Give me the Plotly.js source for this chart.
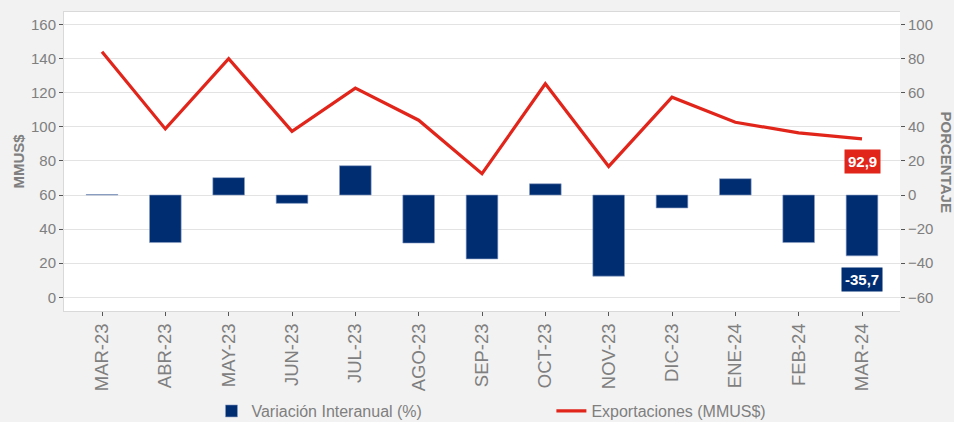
<!DOCTYPE html>
<html>
<head>
<meta charset="utf-8">
<script src="https://cdn.plot.ly/plotly-3.0.1.min.js"></script>
<style>html,body{margin:0;padding:0;background:#f2f2f2;}#chart{width:954px;height:422px;}</style>
</head>
<body>
<div id="chart"></div>
<script>
const categories = ["MAR-23","ABR-23","MAY-23","JUN-23","JUL-23","AGO-23","SEP-23","OCT-23","NOV-23","DIC-23","ENE-24","FEB-24","MAR-24"];
const exportaciones = [144.1, 98.8, 140.0, 97.4, 122.7, 103.9, 72.5, 125.3, 76.8, 117.4, 102.7, 96.5, 92.9];
const variacion = [0.3, -27.9, 10.2, -4.9, 17.2, -28.2, -37.5, 6.6, -47.6, -7.6, 9.6, -27.9, -35.7];
const leftTicks = [0, 20, 40, 60, 80, 100, 120, 140, 160];
const rightTicks = [-60, -40, -20, 0, 20, 40, 60, 80, 100];

const gray = "#7f7f7f";
const navy = "#002d72";
const red = "#e1251b";
const last = categories.length - 1;

const traces = [
  {
    type: "bar", x: categories, y: variacion, yaxis: "y2", name: "Variación Interanual (%)",
    marker: {color: navy, line: {color: "#8da0c4", width: 0.6}}, width: 0.5, legend: "legend"
  },
  {
    type: "scatter", mode: "lines", x: categories, y: exportaciones, yaxis: "y", name: "Exportaciones (MMUS$)",
    line: {color: red, width: 3.2}, legend: "legend2"
  }
];

const legFont = {family: "Liberation Sans Narrow, Arial Narrow, sans-serif", size: 16, color: gray};

const layout = {
  width: 954, height: 422,
  paper_bgcolor: "#f2f2f2", plot_bgcolor: "#ffffff",
  margin: {l: 64, r: 54, t: 12, b: 111},
  font: {family: "Liberation Sans, Arial, sans-serif", color: gray, size: 15},
  showlegend: true,
  xaxis: {
    type: "category", range: [-0.6, 12.6], tickangle: -90, automargin: false,
    ticks: "outside", ticklen: 4, tickcolor: "#555", tickfont: {size: 18.5, color: gray},
    showgrid: false, showline: true, linecolor: "#d9d9d9", mirror: true, zeroline: false
  },
  yaxis: {
    range: [-8.06, 167.4], tickvals: leftTicks, ticks: "outside", ticklen: 4, tickcolor: "#555",
    tickfont: {size: 15, color: gray}, gridcolor: "#e3e3e3", zeroline: false, automargin: false,
    showline: true, linecolor: "#d9d9d9"
  },
  yaxis2: {
    overlaying: "y", side: "right", range: [-68.06, 107.4], tickvals: rightTicks, automargin: false,
    ticks: "outside", ticklen: 4, tickcolor: "#555", tickfont: {size: 15, color: gray},
    showgrid: false, zeroline: false
  },
  legend: {orientation: "h", x: 0.1764, xanchor: "left", yref: "container", y: 0.026, yanchor: "middle",
    font: legFont, bgcolor: "rgba(0,0,0,0)"},
  legend2: {orientation: "h", x: 0.583, xanchor: "left", yref: "container", y: 0.026, yanchor: "middle",
    font: legFont, bgcolor: "rgba(0,0,0,0)"},
  annotations: [
    {x: categories[last], y: exportaciones[last], xref: "x", yref: "y", yshift: -23, showarrow: false,
      text: "<b>" + String(exportaciones[last]).replace(".", ",") + "</b>",
      font: {color: "#ffffff", size: 15}, bgcolor: red, borderpad: 3},
    {x: categories[last], y: variacion[last], xref: "x", yref: "y2", yshift: -24, showarrow: false,
      text: "<b>" + String(variacion[last]).replace(".", ",") + "</b>",
      font: {color: "#ffffff", size: 15}, bgcolor: navy, borderpad: 3},
    {x: (18 - 64) / 836, xref: "paper", xanchor: "center", y: 0.5, yref: "paper", yanchor: "middle",
      showarrow: false, textangle: -90, text: "<b>MMUS$</b>", font: {size: 15, color: gray}},
    {x: (946 - 64) / 836, xref: "paper", xanchor: "center", y: 0.5, yref: "paper", yanchor: "middle",
      showarrow: false, textangle: 90, text: "<b>PORCENTAJE</b>", font: {size: 15, color: gray}}
  ]
};
Plotly.newPlot("chart", traces, layout, {displayModeBar: false});
</script>
</body>
</html>
